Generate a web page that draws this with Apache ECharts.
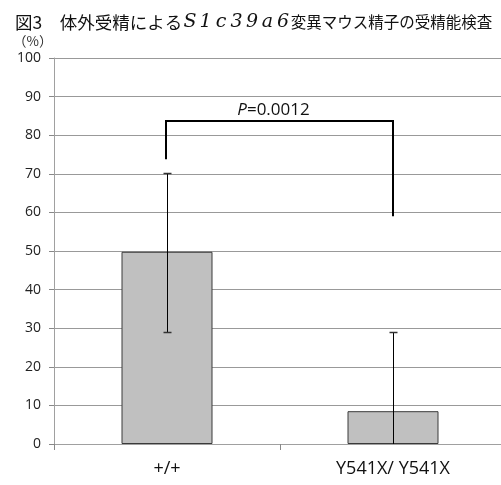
<!DOCTYPE html>
<html>
<head>
<meta charset="utf-8">
<script src="https://cdn.jsdelivr.net/npm/echarts@6/dist/echarts.min.js"></script>
<style>
  html, body { margin: 0; padding: 0; background: #fff; overflow: hidden; }
  #chart { width: 510px; height: 485px; }
</style>
</head>
<body>
<div id="chart"></div>
<script>
// Genotypes and fertilization rate (%)
const categories = ['+/+', 'Y541X/ Y541X'];
const rates = [49.8, 8.5];
// Error bar ranges: [low, high]
const errLow = [29, 0];
const errHigh = [70.2, 29];
// Significance bracket: left leg bottom, top line, right leg bottom
const bracketLeft = 73.8;
const bracketTop = 83.7;
const bracketRight = 59;
const pLabel = '0.0012';
const yTicks = [0, 10, 20, 30, 40, 50, 60, 70, 80, 90, 100];
const geneName = 'S1c39a6';

const chart = echarts.init(document.getElementById('chart'), null, { renderer: 'canvas' });

const labelFont = '"Open Sans", "DejaVu Sans", sans-serif';
const cjkFont = '"Noto Sans CJK JP", sans-serif';

// gene symbol set in wide italic cells, one per character
const geneRich = geneName.split('').map(ch => '{g|' + ch + '}').join('');

chart.setOption({
  animation: false,
  backgroundColor: '#fff',
  title: {
    text: '{a|図3　体外受精による}' + geneRich + '{c|変異マウス精子の受精能検査}',
    left: 10,
    top: 8,
    textStyle: {
      rich: {
        a: { fontFamily: cjkFont, fontSize: 17.5, color: '#111', fontWeight: 'normal' },
        g: { fontFamily: '"DejaVu Serif", "Liberation Serif", serif', fontStyle: 'italic', fontWeight: 'normal',
             fontSize: 19, color: '#111', width: 15.5, align: 'center' },
        c: { fontFamily: cjkFont, fontSize: 15.5, color: '#111', fontWeight: 'normal' }
      }
    }
  },
  graphic: [{
    type: 'text',
    left: 13,
    top: 34,
    style: { text: '（%）', fontSize: 13.5, fill: '#333', fontFamily: cjkFont }
  }],
  grid: { left: 54, top: 58, width: 452, height: 386, containLabel: false },
  xAxis: {
    type: 'category',
    data: categories,
    axisLine: { lineStyle: { color: '#a0a0a0', width: 1 } },
    axisTick: { show: true, alignWithLabel: false, length: 6, lineStyle: { color: '#888' } },
    axisLabel: { color: '#111', fontSize: 18, margin: 16, fontFamily: labelFont }
  },
  yAxis: {
    type: 'value',
    min: 0,
    max: 100,
    interval: 10,
    axisLine: { show: true, lineStyle: { color: '#a0a0a0', width: 1 } },
    axisTick: { show: true, length: 5, lineStyle: { color: '#888' } },
    axisLabel: { color: '#222', fontSize: 14, margin: 13, fontFamily: labelFont,
      formatter: v => yTicks.includes(v) ? String(v) : '' },
    splitLine: { lineStyle: { color: '#999', width: 1 } }
  },
  series: [
    {
      type: 'bar',
      data: rates,
      barWidth: 91,
      itemStyle: { color: '#c0c0c0', borderColor: '#3a3a3a', borderWidth: 1 },
      z: 2
    },
    {
      // error bars
      type: 'custom',
      z: 3,
      data: categories.map((c, i) => [i, errLow[i], errHigh[i]]),
      renderItem: function (params, api) {
        const x = api.value(0);
        const lo = api.coord([x, api.value(1)]);
        const hi = api.coord([x, api.value(2)]);
        const cx = Math.round(lo[0]) + 0.5;
        const cap = 4;
        const children = [{
          type: 'line',
          shape: { x1: cx, y1: lo[1], x2: cx, y2: hi[1] },
          style: { stroke: '#000', lineWidth: 1 }
        }, {
          type: 'line',
          shape: { x1: cx - cap, y1: Math.round(hi[1]) + 0.5, x2: cx + cap, y2: Math.round(hi[1]) + 0.5 },
          style: { stroke: '#333', lineWidth: 1.5 }
        }];
        if (api.value(1) > 0) {
          children.push({
            type: 'line',
            shape: { x1: cx - cap, y1: Math.round(lo[1]) + 0.5, x2: cx + cap, y2: Math.round(lo[1]) + 0.5 },
            style: { stroke: '#333', lineWidth: 1.5 }
          });
        }
        return { type: 'group', children: children };
      }
    },
    {
      // significance bracket with p-value
      type: 'custom',
      z: 4,
      data: [[0, 1, bracketLeft, bracketTop, bracketRight]],
      renderItem: function (params, api) {
        const l = api.coord([api.value(0), api.value(2)]);
        const t = api.coord([api.value(0), api.value(3)]);
        const r = api.coord([api.value(1), api.value(4)]);
        const rt = api.coord([api.value(1), api.value(3)]);
        const lx = Math.round(l[0]) - 1;
        const rx = Math.round(r[0]);
        return {
          type: 'group',
          children: [{
            type: 'polyline',
            shape: { points: [[lx, l[1]], [lx, t[1]], [rx, rt[1]], [rx, r[1]]] },
            style: { stroke: '#000', lineWidth: 2, fill: null }
          }, {
            type: 'text',
            x: (lx + rx) / 2 - 6,
            y: t[1] - 2,
            style: {
              text: '{i|P}{n|=' + pLabel + '}',
              align: 'center',
              verticalAlign: 'bottom',
              rich: {
                i: { fontStyle: 'italic', fontSize: 17, fill: '#111', fontFamily: labelFont },
                n: { fontSize: 17, fill: '#111', fontFamily: labelFont }
              }
            }
          }]
        };
      }
    }
  ]
});
</script>
</body>
</html>
